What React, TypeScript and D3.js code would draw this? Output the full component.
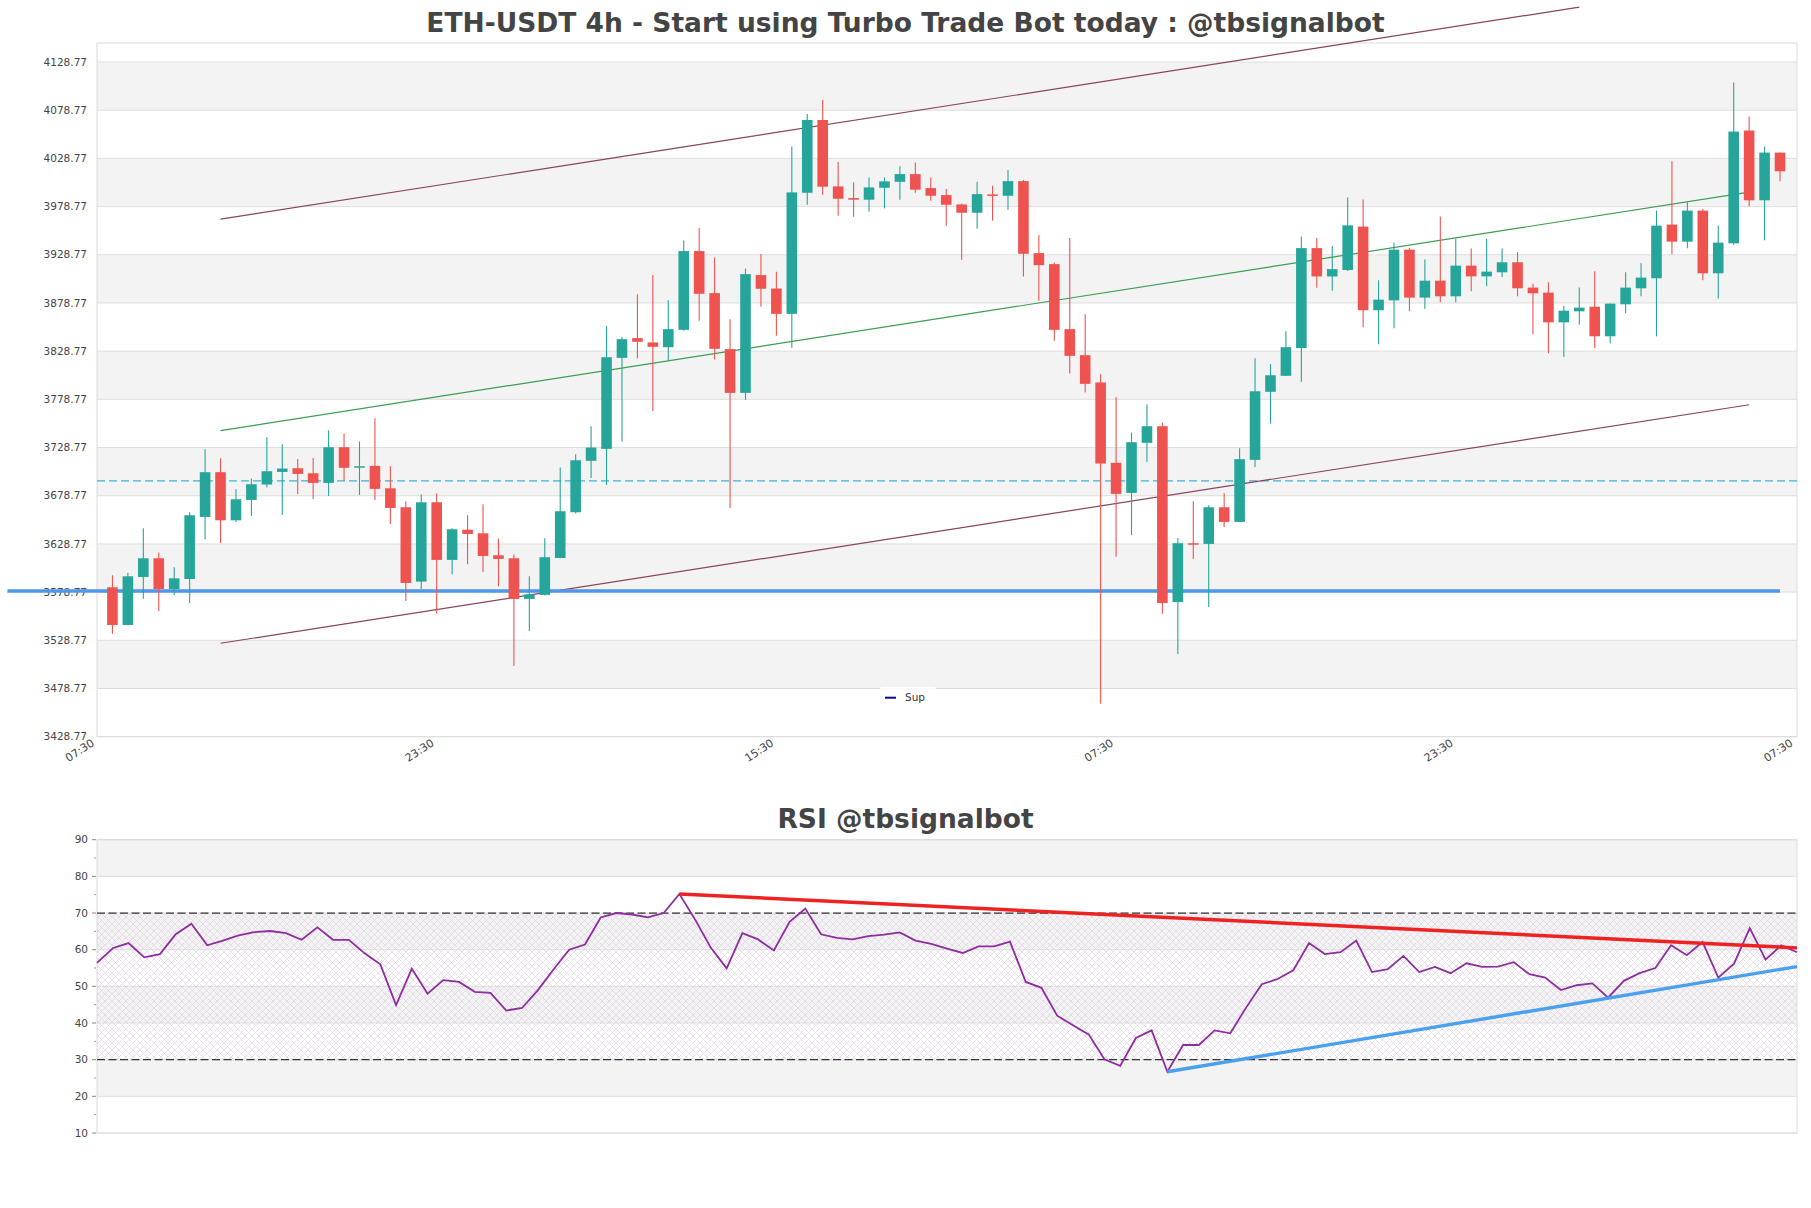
import React from "react";
import * as d3 from "d3";

// ---- data ----
const opens = [
  3583.8, 3544.7, 3594.5, 3613.9, 3582.0, 3592.4, 3656.8, 3703.2, 3653.3, 3674.4,
  3690.4, 3703.5, 3707.3, 3702.1, 3692.1, 3729.1, 3708.0, 3709.7, 3686.5, 3666.8,
  3589.7, 3672.0, 3612.2, 3643.6, 3639.8, 3617.0, 3613.9, 3571.7, 3575.9, 3614.2,
  3661.6, 3715.0, 3727.4, 3821.8, 3842.3, 3837.8, 3832.9, 3850.9, 3932.6, 3889.0,
  3830.9, 3785.5, 3907.7, 3893.8, 3867.5, 3993.1, 4068.6, 3999.7, 3987.6, 3985.9,
  3998.3, 4004.5, 4012.5, 3998.0, 3990.7, 3981.0, 3972.4, 3991.4, 3990.0, 4005.2,
  3930.5, 3919.1, 3851.6, 3824.6, 3796.3, 3712.9, 3681.7, 3733.6, 3750.9, 3568.5,
  3629.5, 3628.8, 3666.8, 3651.6, 3716.0, 3786.6, 3803.2, 3831.9, 3935.7, 3906.3,
  3913.0, 3958.0, 3871.2, 3881.5, 3934.1, 3884.3, 3901.9, 3885.7, 3917.5, 3906.4,
  3910.6, 3921.0, 3894.7, 3889.5, 3858.7, 3870.1, 3874.9, 3844.2, 3877.4, 3894.0,
  3904.4, 3960.1, 3942.4, 3974.6, 3909.6, 3940.7, 4057.7, 3985.3, 4034.8,
];
const highs = [
  3596.3, 3599.0, 3645.0, 3619.8, 3604.5, 3661.6, 3727.0, 3717.7, 3685.5, 3696.6,
  3739.5, 3732.2, 3717.0, 3718.0, 3746.8, 3743.3, 3735.0, 3759.2, 3709.4, 3672.7,
  3680.0, 3681.4, 3645.0, 3658.5, 3670.0, 3634.3, 3617.7, 3595.2, 3634.7, 3708.0,
  3721.9, 3750.9, 3854.7, 3843.6, 3887.9, 3907.7, 3881.7, 3943.6, 3956.5, 3926.0,
  3862.0, 3914.6, 3929.5, 3911.1, 4041.2, 4074.8, 4089.3, 4025.0, 4003.9, 4009.0,
  4009.0, 4020.5, 4024.6, 4009.0, 3997.0, 3982.0, 4004.5, 4000.4, 4016.7, 4006.3,
  3949.2, 3920.8, 3946.1, 3867.2, 3804.9, 3781.0, 3744.3, 3773.8, 3754.7, 3635.0,
  3673.1, 3668.9, 3681.4, 3728.1, 3821.5, 3815.3, 3849.5, 3947.8, 3946.1, 3937.8,
  3988.2, 3986.0, 3902.3, 3941.4, 3935.9, 3923.8, 3968.4, 3945.5, 3935.2, 3945.5,
  3935.2, 3931.4, 3898.8, 3900.2, 3875.7, 3894.7, 3911.6, 3878.1, 3910.6, 3920.0,
  3974.6, 4025.8, 3983.3, 3976.3, 3959.0, 4107.5, 4072.2, 4041.1, 4034.8,
];
const lows = [
  3535.7, 3544.7, 3572.0, 3559.2, 3575.5, 3567.5, 3633.6, 3629.8, 3651.6, 3657.8,
  3687.3, 3658.9, 3680.7, 3675.5, 3678.6, 3694.2, 3679.6, 3674.4, 3649.5, 3569.6,
  3582.0, 3556.4, 3597.3, 3607.7, 3599.7, 3584.8, 3502.1, 3538.5, 3575.2, 3614.0,
  3660.3, 3697.3, 3690.0, 3734.7, 3821.5, 3766.8, 3819.4, 3850.0, 3860.3, 3820.1,
  3666.1, 3778.3, 3874.8, 3844.7, 3832.2, 3980.7, 3991.0, 3969.3, 3968.2, 3973.4,
  3976.9, 3985.9, 3993.1, 3984.8, 3958.9, 3923.6, 3955.8, 3964.1, 3975.5, 3906.3,
  3881.0, 3839.5, 3805.6, 3785.9, 3463.0, 3615.6, 3638.1, 3713.9, 3556.4, 3514.6,
  3613.2, 3563.4, 3646.4, 3651.6, 3708.7, 3753.7, 3803.0, 3797.0, 3894.5, 3891.4,
  3912.0, 3853.5, 3835.9, 3852.5, 3870.1, 3872.5, 3879.5, 3879.5, 3890.9, 3896.1,
  3905.8, 3885.7, 3846.2, 3826.5, 3822.7, 3856.3, 3832.1, 3836.9, 3868.0, 3885.7,
  3844.2, 3929.3, 3935.5, 3902.3, 3883.3, 3939.0, 3979.1, 3943.8, 4005.1,
];
const closes = [
  3544.7, 3595.2, 3613.9, 3582.0, 3593.1, 3658.5, 3703.2, 3653.3, 3675.1, 3690.7,
  3704.2, 3707.0, 3701.4, 3692.1, 3729.1, 3707.7, 3709.4, 3685.9, 3666.1, 3588.3,
  3672.0, 3612.2, 3644.0, 3639.1, 3616.3, 3613.2, 3571.7, 3576.5, 3615.0, 3662.7,
  3715.6, 3728.8, 3822.5, 3841.2, 3838.5, 3833.3, 3851.6, 3932.6, 3888.3, 3831.2,
  3785.5, 3908.7, 3893.5, 3867.5, 3993.5, 4068.6, 3999.4, 3986.9, 3985.9, 3998.7,
  4004.9, 4012.5, 3996.3, 3990.0, 3980.7, 3972.4, 3991.7, 3990.0, 4005.2, 3929.8,
  3918.0, 3850.9, 3823.9, 3794.9, 3712.2, 3680.7, 3734.3, 3750.9, 3567.5, 3629.5,
  3628.1, 3666.8, 3651.6, 3716.7, 3787.2, 3803.8, 3832.9, 3935.7, 3906.3, 3913.9,
  3959.3, 3871.2, 3882.2, 3934.1, 3884.3, 3901.9, 3885.7, 3917.5, 3906.4, 3911.3,
  3921.0, 3894.0, 3888.8, 3858.7, 3870.8, 3873.9, 3844.2, 3878.1, 3894.7, 3905.1,
  3959.0, 3942.4, 3974.6, 3909.6, 3941.4, 4056.6, 3985.3, 4034.8, 4015.4,
];

const priceTicks = [
  3428.77, 3478.77, 3528.77, 3578.77, 3628.77, 3678.77, 3728.77, 3778.77,
  3828.77, 3878.77, 3928.77, 3978.77, 4028.77, 4078.77, 4128.77,
];
const timeTickIndex = [-1, 21, 43, 65, 87, 109];
const timeTickLabels = ["07:30", "23:30", "15:30", "07:30", "23:30", "07:30"];

// channel lines: [startIndex, startValue, endIndex, endValue]
const channelUpper = [7, 3965.7, 95, 4185.7];
const channelMid = [7, 3746.3, 106, 3993.8];
const channelLower = [7, 3525.7, 106, 3773.2];
const supportLine = [-6.8, 3580.0, 108, 3580.0];
const dashedLevel = 3694.2;

const rsiValues = [
  56.4, 60.4, 61.8, 57.9, 58.8, 64.2, 67.1, 61.2, 62.5, 63.9,
  64.8, 65.1, 64.5, 62.7, 66.1, 62.7, 62.7, 59.0, 56.0, 44.9,
  54.8, 48.0, 51.7, 51.2, 48.5, 48.2, 43.4, 44.1, 48.9, 54.6,
  60.0, 61.4, 68.8, 70.0, 69.6, 68.8, 70.0, 75.2, 68.2, 60.5,
  54.9, 64.5, 62.8, 59.8, 67.6, 71.2, 64.2, 63.2, 62.8, 63.7,
  64.1, 64.7, 62.5, 61.6, 60.3, 59.1, 60.9, 60.9, 62.2, 51.2,
  49.6, 42.0, 39.4, 36.9, 30.1, 28.3, 35.9, 38.0, 26.7, 34.0,
  34.0, 38.0, 37.2, 44.2, 50.6, 52.0, 54.4, 61.8, 58.8, 59.3,
  62.5, 53.9, 54.7, 58.3, 53.9, 55.3, 53.6, 56.3, 55.3, 55.4,
  56.6, 53.3, 52.4, 49.0, 50.3, 50.8, 46.9, 51.5, 53.6, 55.0,
  61.2, 58.5, 62.1, 52.4, 56.2, 65.9, 57.3, 61.2, 59.3,
];
const rsiTicks = [10, 20, 30, 40, 50, 60, 70, 80, 90];
const rsiMinorTicks = [15, 25, 35, 45, 55, 65, 75, 85];
const rsiResistance = [37, 75.2, 108, 60.5];
const rsiSupport = [68, 26.7, 108, 55.4];

const FONT = "DejaVu Sans, sans-serif";
const UP = "#26a69a";
const DOWN = "#ef5350";

export default function App() {
  const W = 1811;
  const H = 1208;

  // main price panel
  const pL = 97, pR = 1797, pT = 43, pB = 736.7;
  const x = d3.scaleLinear().domain([-1, 109.1]).range([pL, pR]);
  const y = d3.scaleLinear().domain([3428.77, 4148.5]).range([pB, pT]);
  const bodyW = 10.6;

  // rsi panel
  const rT = 839.7, rB = 1133;
  const xr = d3.scaleLinear().domain([0, 108]).range([pL, pR]);
  const yr = d3.scaleLinear().domain([10, 90]).range([rB, rT]);

  const seg = (s: number[], sx: any, sy: any) =>
    d3.line<number[]>().x((d) => sx(d[0])).y((d) => sy(d[1]))([
      [s[0], s[1]],
      [s[2], s[3]],
    ]) as string;

  const rsiPath = d3
    .line<number>()
    .x((_, i) => xr(i))
    .y((d) => yr(d))(rsiValues) as string;

  const priceBands = priceTicks.slice(0, -1).map((t, k) => ({ lo: t, hi: priceTicks[k + 1], k }));
  const rsiBands = rsiTicks.slice(0, -1).map((t, k) => ({ lo: t, hi: rsiTicks[k + 1], k }));

  return (
    <svg
      width={W}
      height={H}
      style={{ position: "absolute", left: 0, top: 0, background: "#fff" }}
      fontFamily={FONT}
    >
      <defs>
        <pattern id="hatch" patternUnits="userSpaceOnUse" width={7} height={7}>
          <path d="M0,0 L7,7 M7,0 L0,7" stroke="#dccbe3" strokeWidth={0.6} fill="none" />
        </pattern>
      </defs>
      <rect width={W} height={H} fill="#fff" />

      {/* ---------- price panel ---------- */}
      <text x={W / 2} y={32} textAnchor="middle" fontSize={26.5} fontWeight="bold" fill="#444">
        ETH-USDT 4h - Start using Turbo Trade Bot today : @tbsignalbot
      </text>
      {priceBands
        .filter((b) => b.k % 2 === 1)
        .map((b) => (
          <rect key={b.k} x={pL} width={pR - pL} y={y(b.hi)} height={y(b.lo) - y(b.hi)} fill="#f3f3f3" />
        ))}
      {priceTicks.map((t) => (
        <line key={t} x1={pL} x2={pR} y1={y(t)} y2={y(t)} stroke="#dedede" strokeWidth={1} />
      ))}
      {priceTicks.map((t) => (
        <text key={"l" + t} x={87} y={y(t)} dy="0.35em" textAnchor="end" fontSize={10.5} fill="#444">
          {t.toFixed(2)}
        </text>
      ))}
      {timeTickIndex.map((ti, k) => (
        <text
          key={"t" + k}
          transform={`translate(${x(ti) - 4},${pB + 5}) rotate(-33)`}
          textAnchor="end"
          dy="0.35em"
          fontSize={11}
          fill="#444"
        >
          {timeTickLabels[k]}
        </text>
      ))}
      <rect x={pL} y={pT} width={pR - pL} height={pB - pT} fill="none" stroke="#dcdcdc" />

      <line x1={pL} x2={pR} y1={y(dashedLevel)} y2={y(dashedLevel)} stroke="#3fb3d6" strokeWidth={1.1} strokeDasharray="8,4" />
      <path d={seg(channelUpper, x, y)} stroke="#8a4458" strokeWidth={1.2} fill="none" />
      <path d={seg(channelMid, x, y)} stroke="#3a9e4e" strokeWidth={1.2} fill="none" />
      <path d={seg(channelLower, x, y)} stroke="#8a4458" strokeWidth={1.2} fill="none" />
      <path d={seg(supportLine, x, y)} stroke="#4f97e8" strokeWidth={3.6} fill="none" />

      {opens.map((o, i) => {
        const c = closes[i];
        const col = c >= o ? UP : DOWN;
        const top = y(Math.max(o, c));
        const bot = y(Math.min(o, c));
        return (
          <g key={"c" + i}>
            <line x1={x(i)} x2={x(i)} y1={y(highs[i])} y2={y(lows[i])} stroke={col} strokeWidth={1.1} />
            <rect x={x(i) - bodyW / 2} width={bodyW} y={top} height={Math.max(bot - top, 1.5)} fill={col} />
          </g>
        );
      })}

      <rect x={880} y={687} width={56} height={21} rx={3} fill="#fff" fillOpacity={0.85} />
      <line x1={885} x2={896} y1={697.7} y2={697.7} stroke="#0a0a8c" strokeWidth={2} />
      <text x={905} y={697.7} dy="0.35em" fontSize={10.5} fill="#333">
        Sup
      </text>

      {/* ---------- rsi panel ---------- */}
      <text x={W / 2} y={828} textAnchor="middle" fontSize={26.5} fontWeight="bold" fill="#444">
        RSI @tbsignalbot
      </text>
      {rsiBands
        .filter((b) => b.k % 2 === 1)
        .map((b) => (
          <rect key={"rb" + b.k} x={pL} width={pR - pL} y={yr(b.hi)} height={yr(b.lo) - yr(b.hi)} fill="#f3f3f3" />
        ))}
      {rsiTicks.map((t) => (
        <line key={"rg" + t} x1={pL} x2={pR} y1={yr(t)} y2={yr(t)} stroke="#dedede" />
      ))}
      <rect x={pL} y={yr(70)} width={pR - pL} height={yr(30) - yr(70)} fill="url(#hatch)" />
      {rsiTicks.map((t) => (
        <g key={"rt" + t}>
          <line x1={pL - 5} x2={pL - 1} y1={yr(t)} y2={yr(t)} stroke="#888" />
          <text x={88} y={yr(t)} dy="0.35em" textAnchor="end" fontSize={10.5} fill="#444">
            {t}
          </text>
        </g>
      ))}
      {rsiMinorTicks.map((t) => (
        <line key={"rm" + t} x1={pL - 3} x2={pL - 1} y1={yr(t)} y2={yr(t)} stroke="#999" />
      ))}
      <rect x={pL} y={rT} width={pR - pL} height={rB - rT} fill="none" stroke="#dcdcdc" />
      {[70, 30].map((lv) => (
        <line key={"d" + lv} x1={pL} x2={pR} y1={yr(lv)} y2={yr(lv)} stroke="#333" strokeWidth={1.2} strokeDasharray="8,3.5" />
      ))}
      <path d={rsiPath} stroke="#8e2d9e" strokeWidth={1.8} fill="none" />
      <path d={seg(rsiResistance, xr, yr)} stroke="#ee2222" strokeWidth={3.4} fill="none" />
      <path d={seg(rsiSupport, xr, yr)} stroke="#4aa0ee" strokeWidth={3.4} fill="none" />
    </svg>
  );
}
